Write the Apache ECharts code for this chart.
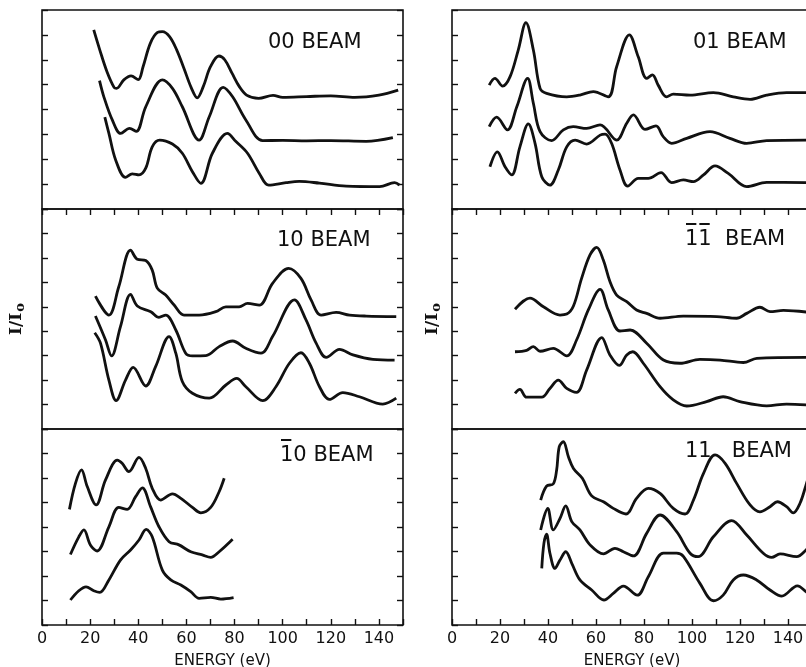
<!DOCTYPE html>
<html>
<head>
<meta charset="utf-8">
<script src="https://cdn.jsdelivr.net/npm/echarts@6/dist/echarts.min.js"></script>
<style>
  html, body { margin: 0; padding: 0; background: #fff; }
  #chart { width: 806px; height: 667px; }
</style>
</head>
<body>
<div id="chart"></div>
<script>
// LEED intensity–energy profiles, three incidence conditions per beam.
// Each curve: [energy (eV), I/I0 in tick units with vertical offset].

const panelTitles = ['00 BEAM', '10 BEAM', '10 BEAM', '01 BEAM', '11  BEAM', '11   BEAM'];
// indices of characters in each title that carry an overbar (negative Miller index)
const panelOverbars = [[], [], [0], [], [0, 1], []];
const energyTickStep = 10;
const energyLabelStep = 20;

// 00 beam
const b00a = [[21.5,7.2],[24,6.4],[27,5.52],[30,4.88],[31,4.85],[34,5.19],[37,5.35],[40,5.2],[42,5.72],[45,6.66],[48,7.1],[50,7.13],[53,6.93],[56,6.39],[59,5.65],[62,4.88],[64.5,4.47],[67,4.92],[70,5.72],[73.5,6.15],[76,5.99],[79,5.45],[82,4.92],[85,4.58],[90,4.45],[96,4.57],[100,4.49],[110,4.52],[120,4.55],[130,4.49],[140,4.58],[148,4.78]];
const b00b = [[23.9,5.16],[25.7,4.51],[29.2,3.58],[32.7,3.04],[36.4,3.24],[39.2,3.12],[43.1,4.11],[50,5.19],[54.2,4.85],[58.3,4.11],[65.3,2.77],[69.5,3.71],[75.3,4.89],[79.2,4.51],[84.7,3.58],[91.7,2.75],[100,2.76],[110,2.74],[120,2.75],[134.7,2.72],[145.8,2.87]];
const b00c = [[26.1,3.69],[27.8,3.04],[30.6,1.97],[34.7,1.27],[37.5,1.41],[40.3,1.37],[43.1,1.64],[45.8,2.5],[48.9,2.77],[54.2,2.61],[58.3,2.24],[62.5,1.5],[66,1.03],[70.8,2.24],[77,3.04],[80.6,2.71],[85.4,2.24],[90.3,1.43],[94.2,0.96],[101.4,1.06],[106.9,1.11],[115.3,1.04],[126.4,0.92],[140.3,0.9],[146.5,1.06],[148.6,0.96]];

// 10 beam
const b10a = [[22.2,5.44],[27.8,4.66],[31.9,5.82],[36.8,7.32],[39.6,6.94],[43.1,6.89],[45.8,6.5],[47.9,5.76],[51.4,5.48],[54.9,5.07],[59,4.66],[65.3,4.66],[72.2,4.8],[76.4,5.0],[81.9,5.0],[85.4,5.14],[90.3,5.07],[95.8,5.96],[102.5,6.57],[107.6,6.16],[111.8,5.28],[116,4.66],[122.2,4.77],[127.8,4.66],[134.7,4.62],[147.2,4.6]];
const b10b = [[22.2,4.62],[26.4,3.64],[28.9,2.99],[32.6,4.19],[36.8,5.51],[39.6,5.03],[45.2,4.8],[48.6,4.57],[51.4,4.66],[55.6,4.05],[59.7,3.1],[62.5,2.99],[68.1,3.0],[73.6,3.37],[79.2,3.6],[84.7,3.3],[91,3.1],[95.8,3.78],[104.9,5.28],[109.7,4.46],[113.9,3.51],[118.1,2.93],[123.6,3.26],[129.2,3.03],[137.5,2.85],[146.5,2.82]];
const b10c = [[21.9,3.94],[24.3,3.51],[27.8,2.0],[30.8,1.16],[34.7,2.0],[37.9,2.52],[43.1,1.76],[47.2,2.55],[52.8,3.78],[55.6,3.1],[58.3,1.94],[62.5,1.46],[69.5,1.26],[76.4,1.8],[80.9,2.07],[84.7,1.73],[91.7,1.16],[97.2,1.73],[102.8,2.69],[107.6,3.12],[111.1,2.69],[115.3,1.73],[119.4,1.21],[125,1.49],[131.9,1.32],[141.6,1.02],[147.2,1.26]];

// 1̄0 beam
const b10barA = [[11.4,4.72],[13.9,5.78],[16.4,6.33],[18.8,5.65],[22.5,4.9],[26.4,5.92],[31.3,6.73],[33.3,6.6],[36.1,6.26],[40.3,6.84],[43.1,6.39],[45.8,5.58],[49.3,5.1],[54.2,5.35],[57.7,5.17],[62.5,4.8],[66,4.58],[70.1,4.8],[73.6,5.44],[75.7,5.99]];
const b10barB = [[11.8,2.88],[15.3,3.6],[17.4,3.88],[20.1,3.27],[22.9,3.02],[27.8,4.01],[31.9,4.8],[35.4,4.72],[38.9,5.24],[41.7,5.6],[45.1,4.83],[48.6,4.01],[52.8,3.4],[56.9,3.27],[61.8,2.99],[66.6,2.86],[70.1,2.76],[73.6,2.99],[79.2,3.5]];
const b10barC = [[11.8,1.02],[15.3,1.4],[18.3,1.56],[21.5,1.4],[24,1.33],[27.8,1.84],[32.6,2.65],[36.8,3.06],[40.3,3.47],[43.3,3.9],[45.8,3.6],[50,2.24],[53.5,1.84],[57.7,1.63],[61.8,1.36],[65.3,1.09],[70.1,1.13],[74.3,1.06],[79.6,1.12]];

// 01 beam
const b01a = [[15.5,4.98],[17.9,5.25],[21.1,4.94],[24.2,5.32],[27.6,6.39],[30.8,7.49],[33.9,6.39],[36.7,4.85],[39.4,4.65],[47.8,4.51],[53.3,4.58],[58.9,4.72],[65.1,4.51],[68.6,5.72],[73.9,7.0],[77.6,6.12],[81.1,5.25],[83.5,5.39],[85.9,4.98],[89.4,4.51],[92.2,4.62],[99.2,4.58],[108.9,4.68],[117.2,4.51],[124.2,4.41],[131.1,4.58],[139.4,4.68],[149,4.68]];
const b01b = [[15.5,3.31],[18.6,3.69],[23.1,3.18],[27,4.11],[31.5,5.25],[33.9,4.25],[36.7,3.11],[41.5,2.75],[46.4,3.18],[50.5,3.31],[56.1,3.24],[61.7,3.38],[68.6,2.77],[72.8,3.45],[75.6,3.78],[80.4,3.2],[85,3.34],[88,2.91],[91.5,2.64],[97.8,2.84],[107.5,3.11],[115.8,2.84],[122.8,2.64],[131.1,2.75],[149,2.77]];
const b01c = [[15.8,1.7],[18.9,2.3],[22.1,1.7],[24.9,1.37],[28.3,2.5],[31.8,3.42],[34.6,2.64],[37.4,1.3],[40.8,0.96],[44.3,1.57],[47.8,2.5],[51.3,2.77],[56.1,2.61],[61.7,2.97],[63.8,3.01],[66.5,2.64],[70,1.57],[73.2,0.92],[77.6,1.23],[81.8,1.23],[87.1,1.46],[91.5,1.06],[96.4,1.17],[100.6,1.1],[104.8,1.37],[109.6,1.73],[115.1,1.43],[122.8,0.9],[131.1,1.07],[149,1.06]];

// 1̄1̄ beam
const b11barA = [[26.25,4.9],[32.5,5.35],[38.1,5.0],[45,4.66],[47.8,4.7],[50.6,5.03],[54,6.16],[57.5,7.12],[60.3,7.43],[63.05,6.91],[65.8,6.03],[68.6,5.48],[72.8,5.21],[76.9,4.87],[81.1,4.73],[86.7,4.53],[96.4,4.62],[110.3,4.6],[118.6,4.53],[122.8,4.73],[128.3,4.98],[132.5,4.8],[138.1,4.85],[149,4.77]];
const b11barB = [[26.25,3.16],[31.1,3.22],[33.9,3.37],[36.7,3.18],[42.2,3.3],[47.8,2.99],[51.9,3.64],[56.8,4.87],[61.7,5.71],[65.1,4.87],[70,4.01],[74.2,4.05],[81.1,3.51],[88.1,2.82],[95,2.69],[103.3,2.85],[111.7,2.82],[121.4,2.72],[127,2.89],[149,2.93]];
const b11barC = [[26.25,1.46],[28.3,1.62],[31.1,1.3],[37.4,1.3],[40.8,1.66],[44.3,2.0],[47.8,1.66],[51.9,1.5],[56.1,2.41],[62.4,3.74],[65.8,3.03],[69.7,2.6],[72.8,3.03],[75.3,3.16],[79.7,2.69],[86.7,1.73],[92.2,1.19],[97.8,0.94],[106.1,1.12],[113,1.32],[119.9,1.12],[131.1,0.95],[139.4,1.02],[149,0.98]];

// 11 beam
const b11a = [[36.95,5.1],[39.4,5.67],[42.2,5.76],[43.6,6.33],[44.7,7.28],[46.4,7.48],[48.5,6.87],[50.6,6.39],[54.3,5.99],[58.2,5.27],[63.1,5.03],[67.2,4.76],[72.5,4.53],[76.9,5.17],[81.8,5.58],[86.7,5.37],[92.2,4.76],[97.1,4.53],[100.6,5.1],[104.8,6.19],[109.6,6.94],[113.8,6.6],[118.6,5.78],[124.2,4.9],[128.3,4.62],[132.5,4.83],[135.6,5.03],[139.4,4.83],[142.2,4.58],[145,4.97],[147.5,5.71],[149,6.2]];
const b11b = [[36.95,3.88],[39.9,4.76],[42.2,3.88],[45,4.35],[47.4,4.86],[49.9,4.22],[53.3,3.88],[57.5,3.27],[63.1,2.9],[67.9,3.13],[71.4,2.99],[75.6,2.82],[81.1,3.74],[86.7,4.49],[93.6,3.81],[99.2,2.93],[102.6,2.79],[108.9,3.6],[116.5,4.26],[122.8,3.67],[129.7,2.93],[133.2,2.76],[136.7,2.9],[143.6,2.79],[147.5,3.06],[149,3.25]];
const b11c = [[37.4,2.31],[38.3,3.33],[39.4,3.71],[40.8,2.93],[42.9,2.31],[45,2.65],[47.4,2.99],[49.9,2.52],[53.3,1.84],[58.2,1.43],[63.3,1.02],[67.2,1.29],[71.4,1.59],[77.2,1.22],[81.8,1.97],[88.1,2.93],[93.6,2.93],[96.4,2.8],[103.3,1.7],[108.9,0.99],[113,1.22],[117.2,1.84],[121.4,2.04],[126.9,1.84],[132.5,1.43],[137.4,1.18],[143.9,1.6],[147.5,1.36],[149,1.2]];

const panelCurves = [
  [b00a, b00b, b00c],
  [b10a, b10b, b10c],
  [b10barA, b10barB, b10barC],
  [b01a, b01b, b01c],
  [b11barA, b11barB, b11barC],
  [b11a, b11b, b11c]
];
const panelYMax = [8, 9, 8, 8, 9, 8];

// layout: two columns of three stacked panels
const colLeft = [42, 452];
const colWidth = [361, 360];
const rowTop = [10, 209, 429];
const rowHeight = [199, 220, 196];
const titlePos = [[268, 43], [277, 241], [280, 456], [693, 43], [685, 240], [685, 452]];
const titleFontSize = 21;
const digitAdvance = 0.636 * titleFontSize;

const chart = echarts.init(document.getElementById('chart'), null, { renderer: 'canvas' });

const grids = [], xAxes = [], yAxes = [], series = [], graphics = [];
const ink = '#111';
const tickLen = 6;

for (let p = 0; p < 6; p++) {
  const col = Math.floor(p / 3), row = p % 3;
  grids.push({
    left: colLeft[col], top: rowTop[row], width: colWidth[col], height: rowHeight[row],
    show: true, borderColor: ink, borderWidth: 1.6, backgroundColor: 'transparent',
    containLabel: false, outerBoundsMode: 'none'
  });
  const isTop = row === 0, isBottom = row === 2;
  xAxes.push({
    gridIndex: p, type: 'value', min: 0, max: 150, interval: energyTickStep,
    position: isTop ? 'top' : 'bottom',
    axisLine: { show: false },
    axisTick: { show: isTop || isBottom, inside: true, length: tickLen, lineStyle: { color: ink, width: 1.4 } },
    splitLine: { show: false },
    axisLabel: {
      show: isBottom, color: ink, fontSize: 16, fontFamily: 'DejaVu Sans', margin: 6,
      formatter: v => (v % energyLabelStep === 0 ? String(v) : '')
    },
    name: isBottom ? 'ENERGY (eV)' : '',
    nameLocation: 'middle', nameGap: 29,
    nameTextStyle: { color: ink, fontSize: 15, fontFamily: 'DejaVu Sans' }
  });
  const yBase = {
    gridIndex: p, type: 'value', min: 0, max: panelYMax[p], interval: 1,
    axisLine: { show: false },
    axisTick: { show: true, inside: true, length: tickLen, lineStyle: { color: ink, width: 1.4 } },
    axisLabel: { show: false }, splitLine: { show: false }
  };
  yAxes.push(Object.assign({}, yBase, {
    position: 'left',
    name: row === 1 ? '{a|I/I}{b|o}' : '',
    nameLocation: 'middle', nameRotate: 90, nameGap: col === 0 ? 15 : 9,
    nameTextStyle: {
      color: ink,
      rich: {
        a: { fontFamily: 'DejaVu Serif', fontWeight: 'bold', fontSize: 17, color: ink },
        b: { fontFamily: 'DejaVu Serif', fontWeight: 'bold', fontSize: 13, color: ink, padding: [7, 0, 0, 1] }
      }
    }
  }));
  yAxes.push(Object.assign({}, yBase, { position: 'right' }));

  panelCurves[p].forEach(curve => {
    series.push({
      type: 'line', xAxisIndex: p, yAxisIndex: 2 * p,
      data: curve, smooth: 0.35, showSymbol: false, silent: true,
      lineStyle: { color: ink, width: 2.8 }
    });
  });

  const [tx, ty] = titlePos[p];
  graphics.push({
    type: 'text', x: tx, y: ty, silent: true,
    style: {
      text: panelTitles[p], fill: ink, font: titleFontSize + 'px "DejaVu Sans"',
      textAlign: 'left', textVerticalAlign: 'middle'
    }
  });
  // overbars for negative indices
  panelOverbars[p].forEach(ci => {
    const x0 = tx + ci * digitAdvance;
    graphics.push({
      type: 'line', silent: true,
      shape: { x1: x0 + 1, y1: ty - 16, x2: x0 + digitAdvance - 2, y2: ty - 16 },
      style: { stroke: ink, lineWidth: 2 }
    });
  });
}

chart.setOption({
  backgroundColor: '#fff',
  animation: false,
  grid: grids,
  xAxis: xAxes,
  yAxis: yAxes,
  series: series,
  graphic: graphics
});
</script>
</body>
</html>
